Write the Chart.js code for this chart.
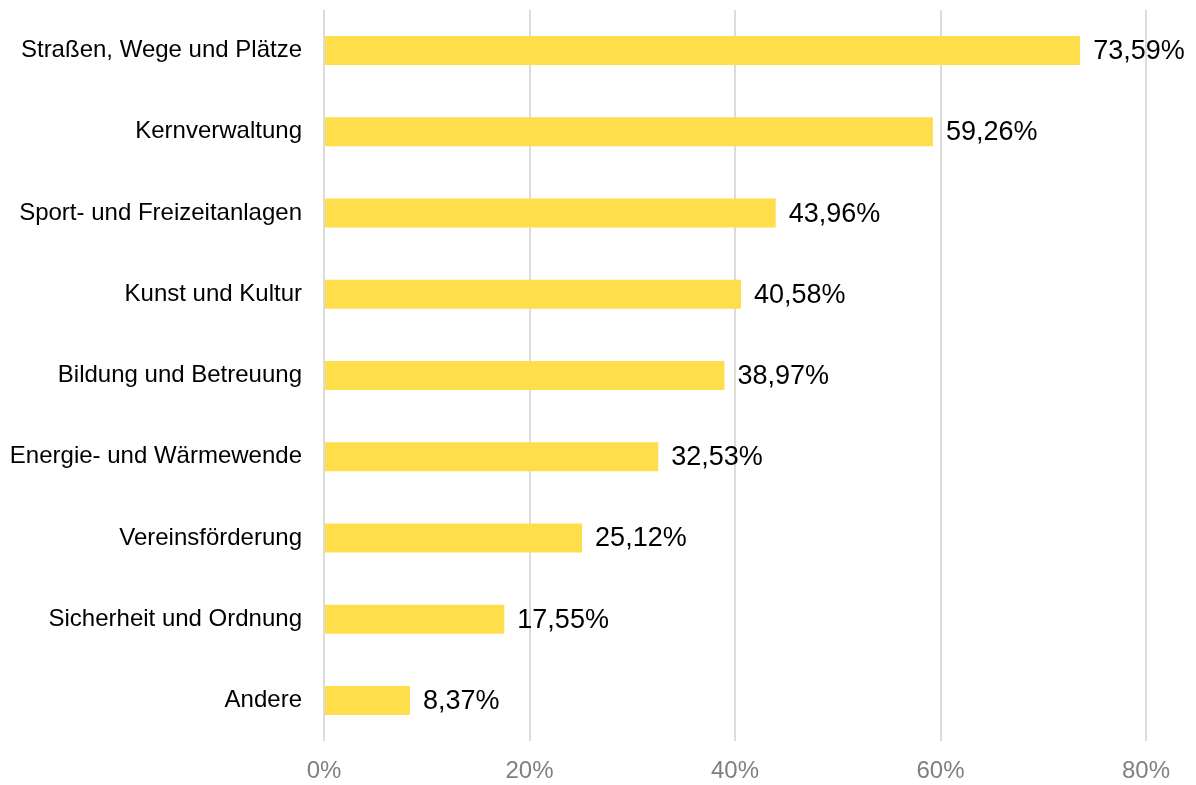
<!DOCTYPE html>
<html>
<head>
<meta charset="utf-8">
<script src="https://cdn.jsdelivr.net/npm/chart.js@4/dist/chart.umd.min.js"></script>
<style>
  html, body { margin: 0; padding: 0; background: #fff; }
  #wrap { width: 1196px; height: 785px; }
</style>
</head>
<body>
<div id="wrap"><canvas id="barChart"></canvas></div>
<script>
// values
const categories = [
    'Straßen, Wege und Plätze',
    'Kernverwaltung',
    'Sport- und Freizeitanlagen',
    'Kunst und Kultur',
    'Bildung und Betreuung',
    'Energie- und Wärmewende',
    'Vereinsförderung',
    'Sicherheit und Ordnung',
    'Andere'
];
const shares = [73.59, 59.26, 43.96, 40.58, 38.97, 32.53, 25.12, 17.55, 8.37];
const xTicks = [0, 20, 40, 60, 80];

const fontFamily = '"Liberation Sans", Arial, sans-serif';

// draws "73,59%" style labels to the right of each bar
const valueLabels = {
    id: 'valueLabels',
    afterDatasetsDraw(chart) {
        const ctx = chart.ctx;
        const meta = chart.getDatasetMeta(0);
        ctx.save();
        ctx.font = '27px ' + fontFamily;
        ctx.fillStyle = '#000';
        ctx.textBaseline = 'middle';
        ctx.textAlign = 'left';
        meta.data.forEach((bar, i) => {
            const txt = shares[i].toFixed(2).replace('.', ',') + '%';
            ctx.fillText(txt, bar.x + 13, bar.y + 1);
        });
        ctx.restore();
    }
};

const ctx = document.getElementById('barChart').getContext('2d');
new Chart(ctx, {
    type: 'bar',
    data: {
        labels: categories,
        datasets: [{
            data: shares,
            backgroundColor: '#FFDE4B',
            borderWidth: 0,
            barPercentage: 0.357,
            categoryPercentage: 1.0
        }]
    },
    options: {
        indexAxis: 'y',
        responsive: true,
        maintainAspectRatio: false,
        animation: false,
        layout: { padding: { top: 10, right: 50, bottom: 0, left: 0 } },
        plugins: {
            legend: { display: false },
            tooltip: { enabled: false }
        },
        scales: {
            x: {
                min: 0,
                max: 80,
                afterBuildTicks: axis => { axis.ticks = xTicks.map(v => ({ value: v })); },
                afterFit: axis => { axis.height = 44; axis.paddingLeft = 0; axis.paddingRight = 0; },
                grid: { color: '#dcdcdc', lineWidth: 2, drawTicks: false },
                border: { display: false },
                ticks: {
                    padding: 16,
                    color: '#808080',
                    font: { family: fontFamily, size: 24 },
                    callback: v => v + '%'
                }
            },
            y: {
                grid: { display: false, drawTicks: false },
                border: { display: false },
                afterFit: axis => { axis.width = 324; axis.paddingTop = 0; axis.paddingBottom = 0; },
                ticks: {
                    padding: 22,
                    color: '#000',
                    font: { family: fontFamily, size: 24 }
                }
            }
        }
    },
    plugins: [valueLabels]
});
</script>
</body>
</html>
